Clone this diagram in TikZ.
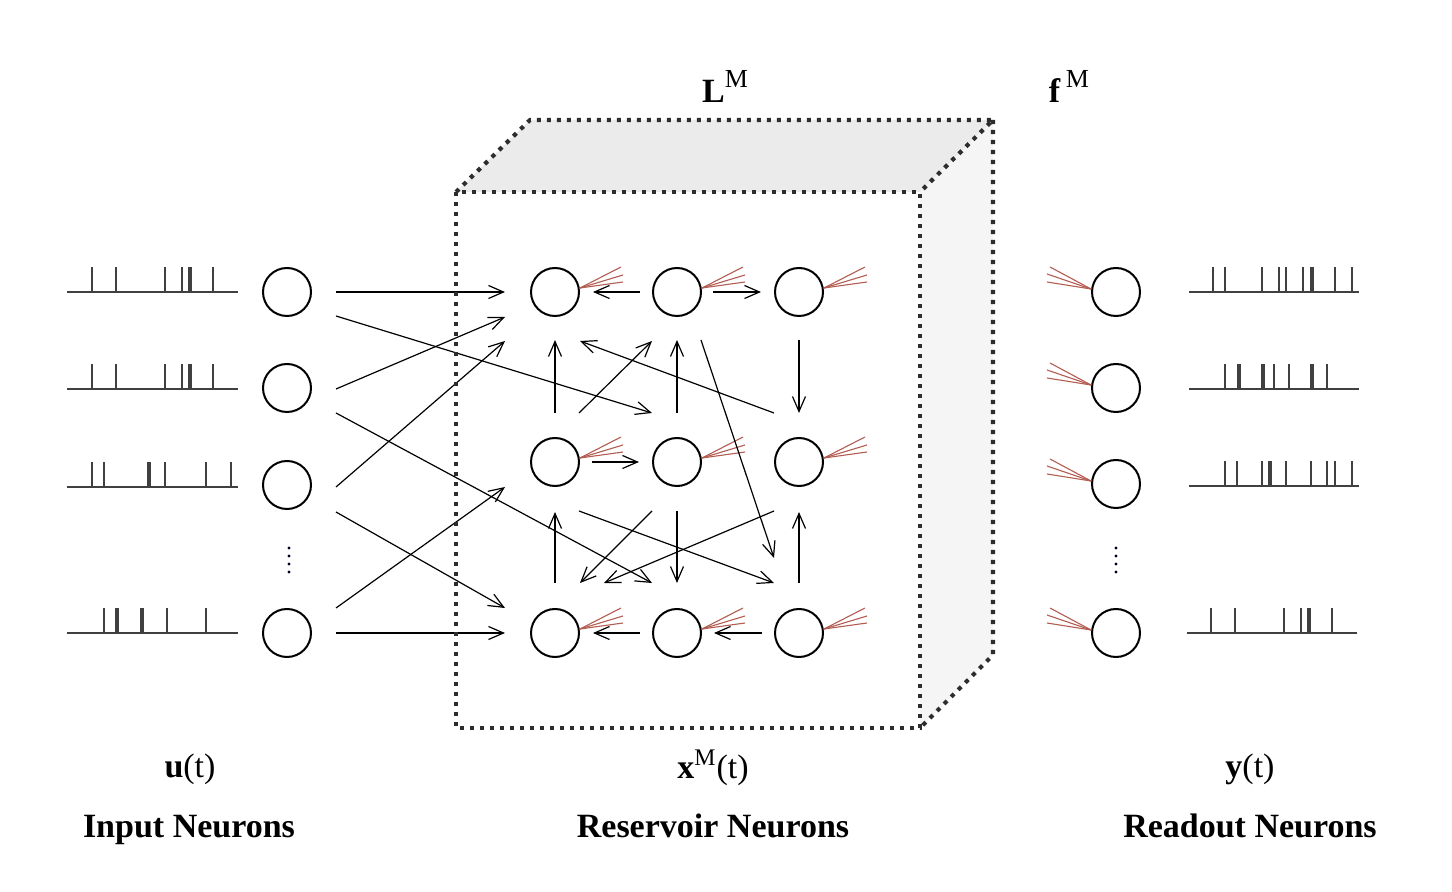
\documentclass[tikz,border=0pt]{standalone}
\usepackage{fontspec}
\setmainfont{Liberation Serif}
\usetikzlibrary{arrows.meta,calc}
\definecolor{synred}{RGB}{178,92,82}
\definecolor{wallgray}{RGB}{45,45,45}

\begin{document}
\begin{tikzpicture}[x=0.5pt,y=-0.5pt,
    neuron/.style={circle,draw,line width=1pt,minimum size=24pt,inner sep=0pt},
    syn/.style={-{Straight Barb[length=7.5pt,width=6.5pt]},line width=0.6pt},
    spike/.style={line width=0.6pt,black!75},
    dend/.style={synred,line width=0.55pt},
    wall/.style={wallgray,line width=2.1pt,dash pattern=on 2.1pt off 2.9pt},
    lbl/.style={font=\fontsize{17}{20}\selectfont\bfseries,anchor=base}]

    \useasboundingbox (0,0) rectangle (1452,892);

    % faces of the liquid box
    \fill[black!8] (456,192) -- (530,120) -- (993,120) -- (920,192) -- cycle;
    \fill[black!4] (920,192) -- (993,120) -- (993,655) -- (920,728) -- cycle;

    % input neurons
    \node[neuron] (in1) at (287,292) {};
    \node[neuron] (in2) at (287,388) {};
    \node[neuron] (in3) at (287,485) {};
    \node[neuron] (in4) at (287,633) {};

    % reservoir neurons
    \node[neuron] (r11) at (555,292) {};
    \node[neuron] (r12) at (677,292) {};
    \node[neuron] (r13) at (799,292) {};
    \node[neuron] (r21) at (555,462) {};
    \node[neuron] (r22) at (677,462) {};
    \node[neuron] (r23) at (799,462) {};
    \node[neuron] (r31) at (555,633) {};
    \node[neuron] (r32) at (677,633) {};
    \node[neuron] (r33) at (799,633) {};

    % readout neurons
    \node[neuron] (out1) at (1116,292) {};
    \node[neuron] (out2) at (1116,388) {};
    \node[neuron] (out3) at (1116,484) {};
    \node[neuron] (out4) at (1116,633) {};

    \foreach \y in {548,556,564,572} {
        \fill[black!85!blue] (289,\y) circle (0.8pt);
        \fill[black!85!blue] (1116,\y) circle (0.8pt);
    }

    % spike trains
    \foreach \y/\xa/\xb/\sp in {292/67/238/{92,116,165,182,189,191,213},
                                389/67/238/{92,116,165,182,189,191,213},
                                487/67/238/{92,104,148,150,165,206,231},
                                633/67/238/{104,116,118,141,143,167,206},
                                292/1189/1359/{1213,1225,1262,1279,1286,1303,1311,1313,1335,1352},
                                389/1189/1359/{1225,1238,1240,1262,1264,1274,1289,1311,1313,1327},
                                486/1189/1359/{1225,1237,1262,1269,1271,1286,1311,1327,1335,1352},
                                633/1187/1357/{1211,1235,1284,1301,1308,1310,1332}} {
        \draw[spike] (\xa,\y) -- (\xb,\y);
        \foreach \s in \sp
            \draw[spike] (\s,\y) -- (\s,\y-25);
    }

    % dendrites
    \foreach \n in {r11,r12,r13,r21,r22,r23,r31,r32,r33} {
        \draw[dend] ($(\n)+(25,-4)$) -- ($(\n)+(66,-25)$);
        \draw[dend] ($(\n)+(25,-4)$) -- ($(\n)+(68,-17)$);
        \draw[dend] ($(\n)+(25,-4)$) -- ($(\n)+(68,-10)$);
    }
    \foreach \n in {out1,out2,out3,out4} {
        \draw[dend] ($(\n)+(-25,-3)$) -- ($(\n)+(-66,-25)$);
        \draw[dend] ($(\n)+(-25,-3)$) -- ($(\n)+(-69,-18)$);
        \draw[dend] ($(\n)+(-25,-3)$) -- ($(\n)+(-69,-10)$);
    }

    % input synapses
    \draw[syn] ($(in1)+(49,0)$) -- ($(r11)+(-50,0)$);
    \draw[syn] ($(in1)+(49,24)$) -- ($(r22)+(-25,-49)$);
    \draw[syn] ($(in2)+(49,1)$) -- ($(r11)+(-50,25)$);
    \draw[syn] ($(in2)+(49,25)$) -- ($(r32)+(-25,-50)$);
    \draw[syn] ($(in3)+(49,2)$) -- ($(r11)+(-50,49)$);
    \draw[syn] ($(in3)+(49,27)$) -- ($(r31)+(-50,-25)$);
    \draw[syn] ($(in4)+(49,-25)$) -- ($(r21)+(-50,25)$);
    \draw[syn] ($(in4)+(49,0)$) -- ($(r31)+(-50,0)$);

    % recurrent synapses
    \draw[syn] ($(r12)+(-37,0)$) -- ($(r11)+(38,0)$);
    \draw[syn] ($(r12)+(36,0)$) -- ($(r13)+(-38,0)$);
    \draw[syn] ($(r21)+(37,0)$) -- ($(r22)+(-38,0)$);
    \draw[syn] ($(r32)+(-37,0)$) -- ($(r31)+(38,0)$);
    \draw[syn] ($(r33)+(-37,0)$) -- ($(r32)+(37,0)$);

    \draw[syn] ($(r21)+(0,-49)$) -- ($(r11)+(0,48)$);
    \draw[syn] ($(r21)+(24,-49)$) -- ($(r12)+(-25,49)$);
    \draw[syn] ($(r22)+(0,-49)$) -- ($(r12)+(0,48)$);
    \draw[syn] ($(r12)+(24,48)$) -- ($(r33)+(-25,-75)$);
    \draw[syn] ($(r23)+(-25,-49)$) -- ($(r11)+(25,49)$);
    \draw[syn] ($(r13)+(0,48)$) -- ($(r23)+(0,-49)$);

    \draw[syn] ($(r31)+(0,-50)$) -- ($(r21)+(0,50)$);
    \draw[syn] ($(r21)+(24,49)$) -- ($(r33)+(-25,-50)$);
    \draw[syn] ($(r22)+(-25,49)$) -- ($(r31)+(25,-50)$);
    \draw[syn] ($(r22)+(0,49)$) -- ($(r32)+(0,-50)$);
    \draw[syn] ($(r23)+(-25,49)$) -- ($(r31)+(49,-50)$);
    \draw[syn] ($(r33)+(0,-50)$) -- ($(r23)+(0,50)$);

    % dotted outline of the box
    \draw[wall] (456,192) rectangle (920,728);
    \draw[wall] (456,192) -- (530,120) -- (993,120) -- (920,192);
    \draw[wall] (993,120) -- (993,655) -- (920,728);

    % labels
    \node[lbl] (Lm) at (725,103) {L\raisebox{7.5pt}{\mdseries\fontsize{13}{15}\selectfont M}};
    \node[lbl] (fm) at (1069,103) {f\,\raisebox{7.5pt}{\mdseries\fontsize{13}{15}\selectfont M}};
    \node[lbl] (ut) at (190,777) {u\mdseries(t)};
    \node[lbl] (xt) at (713,778) {x\textsuperscript{\mdseries M}\mdseries(t)};
    \node[lbl] (yt) at (1250,777) {y\mdseries(t)};
    \node[lbl] (inlbl) at (189,837) {Input Neurons};
    \node[lbl] (reslbl) at (713,837) {Reservoir Neurons};
    \node[lbl] (outlbl) at (1250,837) {Readout Neurons};

\end{tikzpicture}
\end{document}
